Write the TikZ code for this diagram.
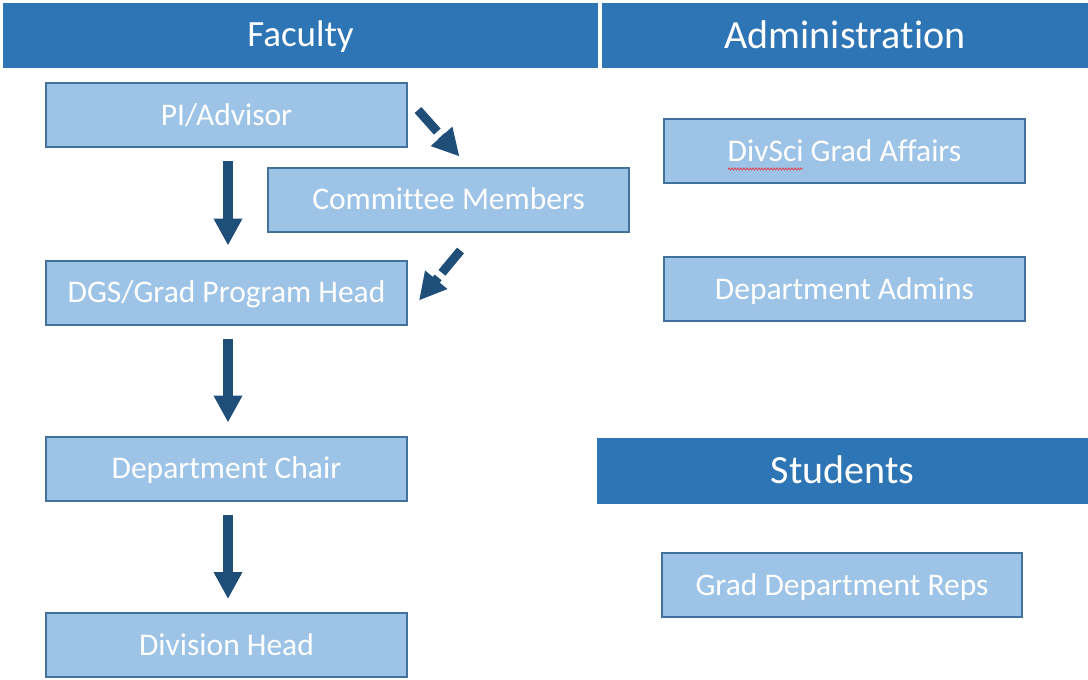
\documentclass[tikz,border=0pt]{standalone}
\usepackage{fontspec}
\setmainfont{Carlito}[Ligatures={NoCommon}]
\usetikzlibrary{arrows.meta,calc,decorations.pathmorphing}
\definecolor{hdr}{HTML}{2E75B6}
\definecolor{boxfill}{HTML}{9DC3E6}
\definecolor{boxline}{HTML}{41719C}
\definecolor{arr}{HTML}{1F4E79}
\definecolor{squig}{HTML}{E04050}
\tikzset{
  header/.style={fill=hdr, draw=none, text=white, inner sep=0pt, minimum height=65pt,
    font=\fontsize{40}{44}\selectfont, text height=25.8pt, text depth=0pt},
  rolebox/.style={fill=boxfill, draw=boxline, line width=2pt, text=white, inner sep=0pt,
    minimum width=361pt, minimum height=64pt, font=\fontsize{31.5}{34}\selectfont,
    text height=20.3pt, text depth=0pt},
  bigarrow/.style={draw=arr, line width=10pt, -{Triangle[width=27pt,length=27pt,fill=arr]}},
  dasharrow/.style={bigarrow, line width=9pt, dash pattern=on 29pt off 6pt}
}
\begin{document}
\begin{tikzpicture}[x=1pt,y=-1pt]
\useasboundingbox (0,0) rectangle (1088,680);
% headers
\node[header, minimum width=595pt, font=\fontsize{37}{42}\selectfont, text height=23.8pt] (fac) at (300.5,35) {Faculty};
\node[header, minimum width=486pt] (adm) at (845,35.5) {Administration};
\node[header, minimum width=491pt, minimum height=66pt] (stu) at (842.5,471) {Students};
% faculty boxes
\node[rolebox] (pi) at (226.5,115) {PI/Advisor};
\node[rolebox] (cm) at (448.5,199.5) {Committee Members};
\node[rolebox] (dgs) at (226.5,292.5) {DGS/Grad Program Head};
\node[rolebox] (chair) at (226.5,468.5) {Department Chair};
\node[rolebox] (div) at (226.5,645) {Division Head};
% administration boxes
\node[rolebox] (dsga) at (844.5,151) {DivSci Grad Affairs};
\node[rolebox] (dadm) at (844.5,289) {Department Admins};
% students box
\node[rolebox, minimum width=360pt] (reps) at (842,585) {Grad Department Reps};
% spell-check squiggle
\draw[squig, line width=0.8pt, decorate, decoration={snake, amplitude=1pt, segment length=3pt}]
  (728,169) -- (803,169);
% vertical arrows
\draw[bigarrow] ($(pi.south)+(1.5,13)$) -- ($(dgs.north)+(1.5,-14)$);
\draw[bigarrow] ($(dgs.south)+(1.5,13)$) -- ($(chair.north)+(1.5,-13)$);
\draw[bigarrow] ($(chair.south)+(1.5,13)$) -- ($(div.north)+(1.5,-13)$);
% dashed diagonal arrows
\draw[dasharrow] ($(pi.east)+(10,-5)$) -- ($(cm.north)+(11,-10)$);
\draw[dasharrow] ($(cm.south)+(12,18)$) -- ($(dgs.east)+(11,8)$);
\end{tikzpicture}
\end{document}
